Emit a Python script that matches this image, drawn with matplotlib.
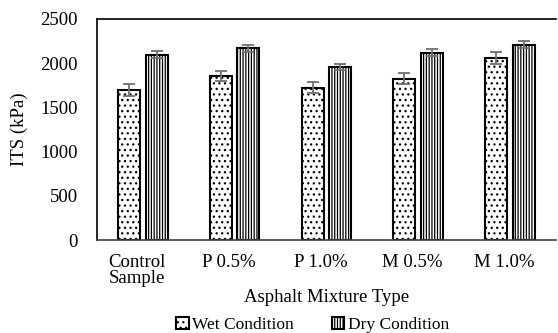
import numpy as np
import matplotlib
matplotlib.use("Agg")
import matplotlib.pyplot as plt
import matplotlib.transforms as mtransforms

# values
categories = ["Control\nSample", "P 0.5%", "P 1.0%", "M 0.5%", "M 1.0%"]
wet = [1700, 1855, 1725, 1825, 2060]
wet_err = [70, 60, 65, 60, 70]
dry = [2095, 2170, 1960, 2120, 2210]
dry_err = [40, 40, 35, 40, 40]

plt.rcParams['font.family'] = ['Liberation Serif', 'DejaVu Serif']
plt.rcParams['hatch.linewidth'] = 0.9

fig = plt.figure(figsize=(5.58, 3.33), dpi=100)
ax = fig.add_axes([0.174, 0.279, 0.822, 0.664])

x = np.arange(len(categories))
w = 0.24
gap = 0.03
ekw = dict(ecolor='#707070', capsize=4, elinewidth=1.3, capthick=1.3)

ax.bar(x - w / 2 - gap, wet, w, yerr=wet_err, color='white', edgecolor='black',
       linewidth=1.5, hatch='...', label='Wet Condition', error_kw=ekw)
ax.bar(x + w / 2 + gap, dry, w, yerr=dry_err, color='white', edgecolor='black',
       linewidth=1.5, hatch='||||||', label='Dry Condition', error_kw=ekw)

ax.set_xlim(-0.5, len(categories) - 0.5)
ax.set_ylim(0, 2500)
ax.set_yticks(np.arange(0, 2501, 500))
ax.set_xticks(x)
ax.set_xticklabels(categories, ha='center', multialignment='left', fontsize=13.5,
                   linespacing=0.95)
ax.tick_params(axis='x', length=0, pad=10)
ax.tick_params(axis='y', length=0, labelsize=13.5, pad=14)

# Excel puts the category labels a little left of the group centre
offset = mtransforms.ScaledTranslation(-6 / 100, 0, fig.dpi_scale_trans)
for lab in ax.get_xticklabels():
    lab.set_transform(lab.get_transform() + offset)

ax.spines['right'].set_visible(False)
for s in ['top', 'left', 'bottom']:
    ax.spines[s].set_linewidth(1.2)
ax.spines['bottom'].set_color('#404040')

ax.set_xlabel("Asphalt Mixture Type", fontsize=13.5, labelpad=1)
ax.set_ylabel("ITS (kPa)", fontsize=13.5, labelpad=9)

ax.legend(loc='center', bbox_to_anchor=(0.47, -0.385), ncol=2, frameon=False,
          fontsize=12.5, handlelength=0.7, handleheight=0.7, columnspacing=2.2,
          handletextpad=0.2)

fig.savefig("out.png", dpi=100)
